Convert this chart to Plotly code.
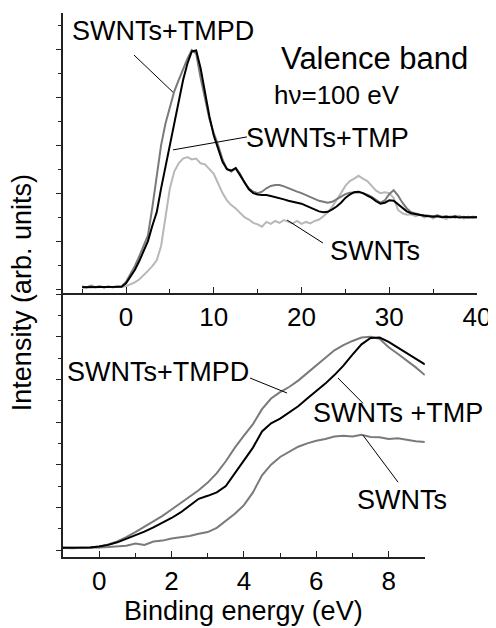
import plotly.graph_objects as go

# ---- top panel: valence band, wide range (binding energy in eV) ----
e_top = [-5.0, -4.5, -4.0, -3.5, -3.0, -2.5, -2.0, -1.5, -1.0, -0.5,
         0.0, 0.5, 1.0, 1.5, 2.0, 2.5, 3.0, 3.5, 4.0, 4.5,
         5.0, 5.5, 6.0, 6.5, 7.0, 7.5, 8.0, 8.5, 9.0, 9.5,
         10.0, 10.5, 11.0, 11.5, 12.0, 12.5, 13.0, 13.5, 14.0, 14.5,
         15.0, 15.5, 16.0, 16.5, 17.0, 17.5, 18.0, 18.5, 19.0, 19.5,
         20.0, 20.5, 21.0, 21.5, 22.0, 22.5, 23.0, 23.5, 24.0, 24.5,
         25.0, 25.5, 26.0, 26.5, 27.0, 27.5, 28.0, 28.5, 29.0, 29.5,
         30.0, 30.5, 31.0, 31.5, 32.0, 32.5, 33.0, 33.5, 34.0, 34.5,
         35.0, 35.5, 36.0, 36.5, 37.0, 37.5, 38.0, 38.5, 39.0, 39.5, 40.0]

tmpd_top = [0.05, 0.04, 0.06, 0.04, 0.05, 0.04, 0.05, 0.04, 0.05, 0.06,
            0.15, 0.30, 0.48, 0.68, 0.90, 1.12, 1.70, 2.40, 3.00, 3.45,
            3.80, 4.12, 4.35, 4.58, 4.80, 4.98, 4.90, 4.40, 3.95, 3.55,
            3.25, 3.00, 2.70, 2.50, 2.45, 2.52, 2.40, 2.22, 2.10, 2.03,
            2.00, 2.03, 2.10, 2.15, 2.17, 2.17, 2.14, 2.10, 2.06, 2.03,
            2.00, 1.96, 1.92, 1.88, 1.84, 1.82, 1.80, 1.82, 1.87, 1.93,
            1.98, 2.01, 2.02, 2.02, 2.00, 1.97, 1.92, 1.86, 1.80, 1.85,
            1.98, 2.06, 1.95, 1.80, 1.68, 1.60, 1.57, 1.55, 1.54, 1.53,
            1.52, 1.54, 1.51, 1.52, 1.50, 1.53, 1.50, 1.51, 1.49, 1.51, 1.50]

tmp_top = [0.04, 0.04, 0.05, 0.04, 0.04, 0.05, 0.04, 0.04, 0.05, 0.05,
           0.12, 0.25, 0.40, 0.58, 0.78, 1.00, 1.32, 1.60, 2.10, 2.55,
           3.00, 3.50, 3.95, 4.35, 4.70, 4.95, 4.97, 4.60, 4.10, 3.60,
           3.20, 2.90, 2.65, 2.50, 2.47, 2.52, 2.38, 2.22, 2.08, 2.00,
           1.97, 1.96, 1.96, 1.94, 1.92, 1.90, 1.87, 1.84, 1.82, 1.80,
           1.78, 1.74, 1.70, 1.66, 1.62, 1.60, 1.61, 1.66, 1.72, 1.80,
           1.90, 1.97, 2.02, 2.03, 2.00, 1.95, 1.90, 1.83, 1.78, 1.80,
           1.85, 1.84, 1.76, 1.68, 1.62, 1.58, 1.56, 1.54, 1.53, 1.52,
           1.51, 1.52, 1.50, 1.51, 1.50, 1.51, 1.49, 1.50, 1.50, 1.49, 1.50]

swnt_top = [0.06, 0.03, 0.08, 0.04, 0.07, 0.03, 0.06, 0.04, 0.07, 0.05,
            0.06, 0.10, 0.14, 0.20, 0.28, 0.38, 0.48, 0.60, 0.90, 1.50,
            2.10, 2.45, 2.62, 2.72, 2.75, 2.70, 2.72, 2.62, 2.60, 2.50,
            2.40, 2.20, 2.00, 1.85, 1.75, 1.68, 1.58, 1.50, 1.45, 1.38,
            1.35, 1.30, 1.40, 1.36, 1.42, 1.38, 1.44, 1.40, 1.37, 1.42,
            1.36, 1.40, 1.37, 1.42, 1.45, 1.52, 1.60, 1.72, 1.85, 2.00,
            2.15, 2.25, 2.30, 2.36, 2.30, 2.25, 2.15, 2.05, 2.00, 2.02,
            2.00, 1.90, 1.65, 1.58, 1.55, 1.56, 1.52, 1.55, 1.49, 1.53,
            1.47, 1.53, 1.50, 1.46, 1.52, 1.48, 1.53, 1.47, 1.51, 1.48, 1.50]

# ---- bottom panel: near the Fermi level ----
e_bot = [-1.0, -0.75, -0.5, -0.25, 0.0, 0.25, 0.5, 0.75, 1.0, 1.25,
         1.5, 1.75, 2.0, 2.25, 2.5, 2.75, 3.0, 3.25, 3.5, 3.75,
         4.0, 4.25, 4.5, 4.75, 5.0, 5.25, 5.5, 5.75, 6.0, 6.25,
         6.5, 6.75, 7.0, 7.25, 7.5, 7.75, 8.0, 8.25, 8.5, 8.75, 9.0]

tmpd_bot = [0.05, 0.05, 0.05, 0.06, 0.08, 0.13, 0.20, 0.30, 0.42, 0.54,
            0.67, 0.80, 0.95, 1.10, 1.25, 1.40, 1.58, 1.80, 2.08, 2.40,
            2.68, 2.95, 3.30, 3.55, 3.70, 3.82, 3.97, 4.15, 4.33, 4.50,
            4.68, 4.80, 4.90, 4.98, 5.00, 4.95, 4.75, 4.60, 4.45, 4.28, 4.10]

tmp_bot = [0.05, 0.05, 0.05, 0.06, 0.08, 0.12, 0.18, 0.26, 0.34, 0.43,
           0.53, 0.64, 0.75, 0.88, 1.05, 1.20, 1.27, 1.35, 1.50, 1.80,
           2.10, 2.40, 2.78, 2.97, 3.08, 3.22, 3.37, 3.55, 3.72, 3.90,
           4.10, 4.32, 4.58, 4.82, 4.97, 4.98, 4.88, 4.75, 4.62, 4.48, 4.35]

swnt_bot = [0.05, 0.04, 0.05, 0.05, 0.06, 0.07, 0.08, 0.10, 0.15, 0.12,
            0.20, 0.22, 0.27, 0.30, 0.33, 0.38, 0.42, 0.52, 0.68, 0.85,
            1.05, 1.35, 1.75, 2.00, 2.18, 2.30, 2.42, 2.50, 2.56, 2.60,
            2.66, 2.68, 2.66, 2.70, 2.65, 2.64, 2.60, 2.62, 2.58, 2.55, 2.53]

DARK = '#7a7a7a'
LIGHT = '#b8b8b8'
FONT = 'Liberation Sans, Arial, sans-serif'

fig = go.Figure()
fig.add_trace(go.Scatter(x=e_top, y=swnt_top, mode='lines', line=dict(color=LIGHT, width=2), xaxis='x', yaxis='y'))
fig.add_trace(go.Scatter(x=e_top, y=tmpd_top, mode='lines', line=dict(color=DARK, width=2), xaxis='x', yaxis='y'))
fig.add_trace(go.Scatter(x=e_top, y=tmp_top, mode='lines', line=dict(color='black', width=2), xaxis='x', yaxis='y'))
fig.add_trace(go.Scatter(x=e_bot, y=swnt_bot, mode='lines', line=dict(color=DARK, width=2), xaxis='x2', yaxis='y2'))
fig.add_trace(go.Scatter(x=e_bot, y=tmpd_bot, mode='lines', line=dict(color=DARK, width=2), xaxis='x2', yaxis='y2'))
fig.add_trace(go.Scatter(x=e_bot, y=tmp_bot, mode='lines', line=dict(color='black', width=2), xaxis='x2', yaxis='y2'))

axis_common = dict(showgrid=False, zeroline=False, showline=True, linecolor='#222', linewidth=1.5,
                   automargin=False, tickcolor='#222', tickwidth=1.2,
                   tickfont=dict(size=26, color='black', family=FONT))

# the page body adds an 8px offset, so the figure is 8px smaller than the window
fig.update_layout(
    width=488, height=620,
    margin=dict(l=55, r=19, t=5, b=71),
    paper_bgcolor='white', plot_bgcolor='white',
    showlegend=False,
    font=dict(family=FONT, color='black'),
    xaxis=dict(axis_common, domain=[0, 1], anchor='y', range=[-7.18, 40],
               tick0=0, dtick=10, ticks='inside', ticklen=6,
               minor=dict(dtick=5, ticks='inside', ticklen=4, tickcolor='#222')),
    yaxis=dict(axis_common, domain=[0.485, 1], anchor='x', range=[-0.083, 5.75],
               tick0=0, dtick=1, ticks='outside', ticklen=5, showticklabels=False,
               minor=dict(dtick=0.5, ticks='outside', ticklen=3, tickcolor='#222')),
    xaxis2=dict(axis_common, domain=[0, 0.874], anchor='y2', range=[-1, 9],
                tick0=0, dtick=2, ticks='inside', ticklen=6,
                minor=dict(dtick=1, ticks='inside', ticklen=4, tickcolor='#222')),
    yaxis2=dict(axis_common, domain=[0, 0.485], anchor='x2', range=[-0.164, 6.02],
                tick0=0, dtick=1, ticks='outside', ticklen=5, showticklabels=False,
                minor=dict(dtick=0.5, ticks='outside', ticklen=3, tickcolor='#222')),
)

# labels and leader lines
def label(text, x, y, ax, size=27):
    fig.add_annotation(text=text, x=x, y=y, xref=ax[0], yref=ax[1], showarrow=False,
                       xanchor='center', yanchor='middle',
                       font=dict(size=size, family=FONT, color='black'))

def leader(x0, y0, x1, y1, ax):
    fig.add_shape(type='line', x0=x0, y0=y0, x1=x1, y1=y1, xref=ax[0], yref=ax[1],
                  line=dict(color='black', width=1))

top = ('x', 'y')
bot = ('x2', 'y2')

label('SWNTs+TMPD', 4.2, 5.375, top)
leader(0.91, 4.875, 5.36, 4.10, top)
label('Valence band', 28.3, 4.8, top, size=31)
label('hν=100 eV', 24.1, 4.04, top, size=26)
label('SWNTs+TMP', 22.96, 3.15, top)
leader(5.36, 2.90, 13.79, 3.17, top)
label('SWNTs', 28.4, 0.79, top)
leader(18.35, 1.44, 22.45, 0.96, top)

label('SWNTs+TMPD', 1.63, 4.17, bot)
leader(4.17, 4.03, 5.19, 3.68, bot)
label('SWNTs +TMP', 8.27, 3.21, bot)
leader(6.60, 4.03, 7.29, 3.44, bot)
label('SWNTs', 8.37, 1.17, bot)
leader(7.29, 2.69, 8.26, 1.59, bot)

fig.add_annotation(text='Binding energy (eV)', xref='paper', yref='paper', x=0.437, y=-0.099,
                   xanchor='center', yanchor='middle', showarrow=False,
                   font=dict(size=27, family=FONT, color='black'))
fig.add_annotation(text='Intensity (arb. units)', xref='paper', yref='paper', x=-0.099, y=0.485,
                   xanchor='center', yanchor='middle', textangle=-90, showarrow=False,
                   font=dict(size=27, family=FONT, color='black'))

fig.write_html('out.html')
